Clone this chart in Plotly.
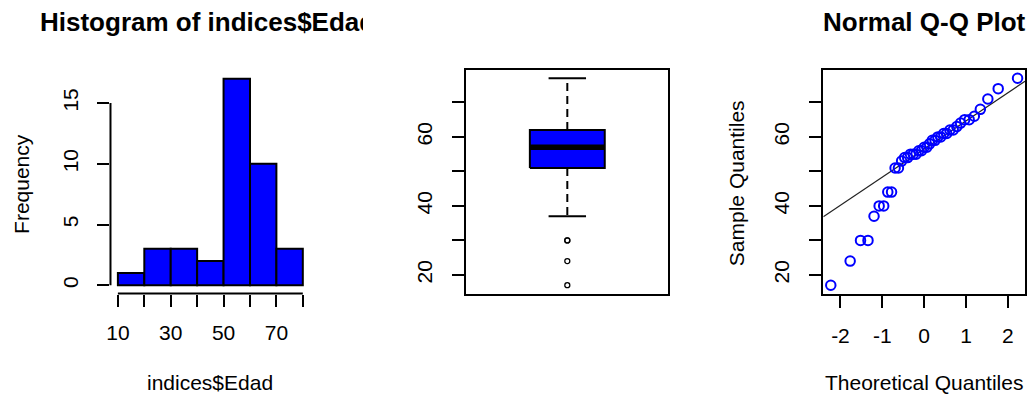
import numpy as np
import plotly.graph_objects as go
from statistics import NormalDist

# ---- data: ages (indices$Edad) ----
edad = [17, 24, 30, 30, 37, 40, 40, 44, 44,
        51, 51, 53, 54, 54, 55, 55, 55, 56, 56, 57, 57, 58, 59, 59, 60, 60,
        61, 61, 62, 62, 63, 64, 65, 65, 66, 68,
        71, 74, 77]
hist_breaks = [10, 20, 30, 40, 50, 60, 70, 80]
hist_yticks = [0, 5, 10, 15]
hist_xticks = [10, 20, 30, 40, 50, 60, 70, 80]
hist_xlabels = ["10", "", "30", "", "50", "", "70", ""]
age_ticks = [20, 30, 40, 50, 60, 70]
age_labels = ["20", "", "40", "", "60", ""]
qq_xticks = [-2, -1, 0, 1, 2]

W, H = 1032, 396
BLUE = "#0000FF"
FONT = "Liberation Sans, Arial, sans-serif"
TICK_FONT = dict(family=FONT, size=21, color="#000000")


def ext(lo, hi, f=0.04):
    d = (hi - lo) * f
    return [lo - d, hi + d]


def xdom(p0, p1):
    return [p0 / W, p1 / W]


def ydom(p0, p1):
    return [1 - p1 / H, 1 - p0 / H]


x = np.array(edad, dtype=float)
n = len(x)

# histogram counts, right-closed bins (first bin includes its lower edge)
counts = []
for i, (a, b) in enumerate(zip(hist_breaks[:-1], hist_breaks[1:])):
    m = ((x >= a) if i == 0 else (x > a)) & (x <= b)
    counts.append(int(m.sum()))
centers = [(a + b) / 2 for a, b in zip(hist_breaks[:-1], hist_breaks[1:])]
bin_w = hist_breaks[1] - hist_breaks[0]

# Tukey five-number summary and whiskers
xs = np.sort(x)
n4 = np.floor((n + 3) / 2) / 2
d = np.array([1, n4, (n + 1) / 2, n + 1 - n4, n])
five = 0.5 * (xs[np.floor(d - 1).astype(int)] + xs[np.ceil(d - 1).astype(int)])
q1, med, q3 = five[1], five[2], five[3]
iqr = q3 - q1
lo_lim, hi_lim = q1 - 1.5 * iqr, q3 + 1.5 * iqr
w_lo = xs[xs >= lo_lim].min()
w_hi = xs[xs <= hi_lim].max()
outl = xs[(xs < lo_lim) | (xs > hi_lim)]

# normal Q-Q
nd = NormalDist()
pp = (np.arange(1, n + 1) - 0.5) / n
theo = np.array([nd.inv_cdf(p) for p in pp])
yq = np.quantile(xs, [0.25, 0.75])
xq = np.array([nd.inv_cdf(0.25), nd.inv_cdf(0.75)])
slope = (yq[1] - yq[0]) / (xq[1] - xq[0])
inter = yq[0] - slope * xq[0]

hist_xr = ext(hist_breaks[0], hist_breaks[-1])
hist_yr = ext(0, max(counts))
age_r = ext(xs.min(), xs.max())
qq_xr = ext(theo.min(), theo.max())

fig = go.Figure()

# --- histogram ---
fig.add_trace(go.Bar(x=centers, y=counts, width=bin_w,
                     marker=dict(color=BLUE, line=dict(color="black", width=2)),
                     xaxis="x", yaxis="y", showlegend=False))

# --- boxplot built from the summary statistics ---
bx0, bx1, cx, cap = 0.8, 1.2, 1.0, 0.1
for ya, yb in ((q3, w_hi), (q1, w_lo)):
    fig.add_trace(go.Scatter(x=[cx, cx], y=[ya, yb], mode="lines",
                             line=dict(color="black", width=2, dash="8px,5px"),
                             xaxis="x2", yaxis="y2", showlegend=False))
for yv in (w_lo, w_hi):
    fig.add_trace(go.Scatter(x=[cx - cap, cx + cap], y=[yv, yv], mode="lines",
                             line=dict(color="black", width=2),
                             xaxis="x2", yaxis="y2", showlegend=False))
fig.add_trace(go.Scatter(x=[bx0, bx1, bx1, bx0, bx0], y=[q1, q1, q3, q3, q1],
                         mode="lines", fill="toself", fillcolor=BLUE,
                         line=dict(color="black", width=2),
                         xaxis="x2", yaxis="y2", showlegend=False))
fig.add_trace(go.Scatter(x=[bx0, bx1], y=[med, med], mode="lines",
                         line=dict(color="black", width=5.5),
                         xaxis="x2", yaxis="y2", showlegend=False))
fig.add_trace(go.Scatter(x=[cx] * len(outl), y=outl, mode="markers",
                         marker=dict(symbol="circle-open", size=5, color="black",
                                     line=dict(width=1.3)),
                         xaxis="x2", yaxis="y2", showlegend=False))

# --- Q-Q plot ---
fig.add_trace(go.Scatter(x=qq_xr, y=[inter + slope * v for v in qq_xr], mode="lines",
                         line=dict(color="#222222", width=1.2),
                         xaxis="x3", yaxis="y3", showlegend=False))
fig.add_trace(go.Scatter(x=theo, y=xs, mode="markers",
                         marker=dict(symbol="circle-open", size=9.5, color=BLUE,
                                     line=dict(width=2)),
                         xaxis="x3", yaxis="y3", showlegend=False))

common = dict(showgrid=False, zeroline=False, ticks="outside", ticklen=12,
              tickwidth=2, tickcolor="black", tickfont=TICK_FONT)
frame = dict(showline=True, linecolor="black", linewidth=2, mirror=True)

fig.update_layout(
    width=W, height=H, margin=dict(l=0, r=0, t=0, b=0),
    paper_bgcolor="white", plot_bgcolor="white",
    xaxis=dict(domain=xdom(106.9, 307.4), range=hist_xr, anchor="y",
               tickmode="array", tickvals=hist_xticks, ticktext=hist_xlabels,
               ticklabelstandoff=8, **common),
    yaxis=dict(domain=ydom(70.5, 293.5), range=hist_yr, anchor="x",
               tickmode="array", tickvals=hist_yticks,
               ticktext=[str(v) for v in hist_yticks], tickangle=-90,
               ticklabelstandoff=11, **common),
    xaxis2=dict(domain=xdom(464, 667), range=[0.46, 1.54], anchor="y2",
                showticklabels=False, showgrid=False, zeroline=False, ticks="", **frame),
    yaxis2=dict(domain=ydom(70, 293.5), range=age_r, anchor="x2",
                tickmode="array", tickvals=age_ticks, ticktext=age_labels,
                tickangle=-90, ticklabelstandoff=12, **common, **frame),
    xaxis3=dict(domain=xdom(822.5, 1025), range=qq_xr, anchor="y3",
                tickmode="array", tickvals=qq_xticks,
                ticktext=[str(v) for v in qq_xticks],
                ticklabelstandoff=10, **common, **frame),
    yaxis3=dict(domain=ydom(70, 293.5), range=age_r, anchor="x3",
                tickmode="array", tickvals=age_ticks, ticktext=age_labels,
                tickangle=-90, ticklabelstandoff=12, **common, **frame),
)

# histogram axis lines span only the tick range
fig.add_shape(type="line", xref="x domain", yref="y", x0=0, x1=0,
              y0=hist_yticks[0], y1=hist_yticks[-1], line=dict(color="black", width=2))
fig.add_shape(type="line", xref="x", yref="y domain", x0=hist_xticks[0], x1=hist_xticks[-1],
              y0=0, y1=0, line=dict(color="black", width=2))


def label(text, px, py, size=21, angle=0, bold=False, xanchor="center", **kw):
    fig.add_annotation(text=f"<b>{text}</b>" if bold else text,
                       x=px / W, y=1 - py / H, xref="paper", yref="paper",
                       xanchor=xanchor, yanchor="middle",
                       showarrow=False, textangle=angle,
                       font=dict(family=FONT, size=size, color="#000000"), **kw)


label("Histogram of indices$Edad", 34, 22.5, size=26, bold=True,
      xanchor="left", width=323, align="left")
label("Normal Q-Q Plot", 923.7, 22.5, size=26, bold=True)
label("Frequency", 17, 184, angle=-90)
label("indices$Edad", 207, 382)
label("Sample Quantiles", 735, 183, angle=-90)
label("Theoretical Quantiles", 923.7, 382)

fig.write_html("out.html")
